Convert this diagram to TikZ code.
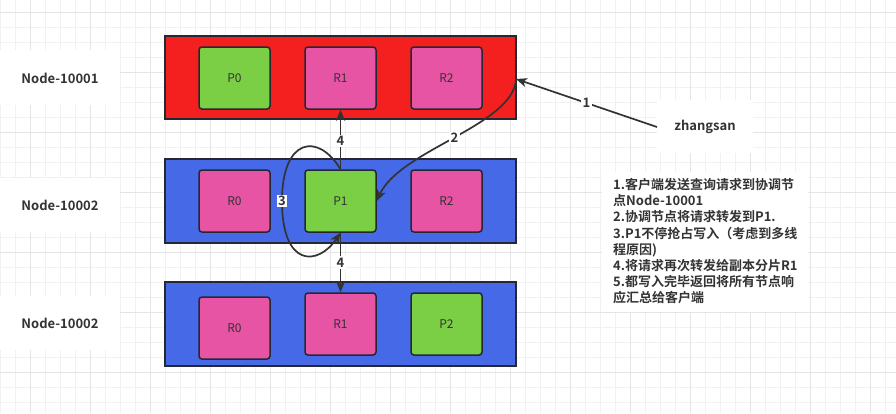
\documentclass[tikz,border=0pt]{standalone}
\usepackage{fontspec}
\setmainfont{Noto Sans CJK SC}[BoldFont={Noto Sans CJK SC Bold}]
\usetikzlibrary{arrows.meta}
\definecolor{cred}{HTML}{F41F1F}
\definecolor{cblue}{HTML}{4669E8}
\definecolor{cgreen}{HTML}{7ACF45}
\definecolor{cpink}{HTML}{E754A4}
\definecolor{cline}{HTML}{232832}
\definecolor{ctext}{HTML}{333333}
\definecolor{gminor}{HTML}{F1F1F1}
\definecolor{gmajor}{HTML}{E5E5E5}
\begin{document}
\begin{tikzpicture}[x=1pt,y=-1pt,
  band/.style={draw=cline,line width=1.5pt,inner sep=0pt,minimum width=351pt},
  part/.style={draw=cline,line width=1.5pt,rounded corners=3pt,minimum width=71pt,minimum height=62pt,inner sep=0pt,font=\fontsize{12}{14}\selectfont,text=ctext},
  pgreen/.style={part,fill=cgreen},
  ppink/.style={part,fill=cpink},
  lbl/.style={fill=white,font=\bfseries\fontsize{13}{15}\selectfont,text=ctext,inner sep=0pt},
  arr/.style={draw=ctext,line width=1.7pt,-{Stealth[length=11pt,width=9pt,inset=3pt]}},
  elab/.style={fill=white,font=\bfseries\fontsize{13}{15}\selectfont,text=ctext,inner sep=1.5pt}]
\useasboundingbox (0,0) rectangle (896,413);
\fill[white] (0,0) rectangle (896,413);
% grid
\foreach \i in {0,...,59} {\draw[gminor,line width=0.8pt] (\i*15,0) -- (\i*15,413);}
\foreach \i in {0,...,27} {\draw[gminor,line width=0.8pt] (0,12.3+\i*15) -- (896,12.3+\i*15);}
\foreach \i in {0,...,14} {\draw[gmajor,line width=0.8pt] (30+\i*60,0) -- (30+\i*60,413);}
\foreach \i in {0,...,6} {\draw[gmajor,line width=0.8pt] (0,12.3+\i*60) -- (896,12.3+\i*60);}
% white label backgrounds
\fill[white] (0,50) rectangle (120,105);
\fill[white] (0,178) rectangle (120,232);
\fill[white] (0,296) rectangle (120,350);
\fill[white] (657,100) rectangle (753,153);
\fill[white] (602,172) rectangle (808,312);
% labels
\node[lbl] (n1) at (60,78) {Node-10001};
\node[lbl] (n2) at (60,205) {Node-10002};
\node[lbl] (n3) at (60,323) {Node-10002};
\node[lbl] (zs) at (705,127) {zhangsan};
\node[anchor=north west,inner sep=0pt,align=left,font=\bfseries\fontsize{13}{16.2}\selectfont,text=ctext] (desc) at (613,178)
 {1.客户端发送查询请求到协调节\\点Node-10001\\2.协调节点将请求转发到P1.\\3.P1不停抢占写入（考虑到多线\\程原因)\\4.将请求再次转发给副本分片R1\\5.都写入完毕返回将所有节点响\\应汇总给客户端};
% bands
\node[band,fill=cred,minimum height=83pt] (b1) at (340.5,77.5) {};
\node[band,fill=cblue,minimum height=84pt] (b2) at (340.5,201) {};
\node[band,fill=cblue,minimum height=84pt] (b3) at (340.5,324) {};
% parts
\node[pgreen] (p0) at (234.5,78) {P0};
\node[ppink] (r1a) at (340.5,78) {R1};
\node[ppink] (r2a) at (446.5,78) {R2};
\node[ppink] (r0b) at (234.5,201) {R0};
\node[pgreen] (p1) at (340.5,201) {P1};
\node[ppink] (r2b) at (446.5,201) {R2};
\node[ppink] (r0c) at (234.5,328) {R0};
\node[ppink] (r1c) at (340.5,324) {R1};
\node[pgreen] (p2) at (446.5,324) {P2};
% connectors
\coordinate (tip1) at (516,79);
\coordinate (zsl) at (657,127);
\draw[arr] (zsl) -- node[elab,pos=0.5] {1} (tip1);
\draw[arr] (tip1) .. controls (514,125) and (400,150) .. node[elab,pos=0.5] {2} (p1.east);
\draw[arr] (p1.north) -- node[elab,pos=0.47] {4} (r1a.south);
\draw[arr] (p1.south) -- node[elab,pos=0.5] {4} (r1c.north);
\coordinate (c3) at (282,201);
\draw[arr] (p1.north) .. controls (318,132) and (282,138) .. (c3) .. controls (282,268) and (318,266) .. (p1.south);
\node[elab] (l3) at (c3) {3};
\end{tikzpicture}
\end{document}
